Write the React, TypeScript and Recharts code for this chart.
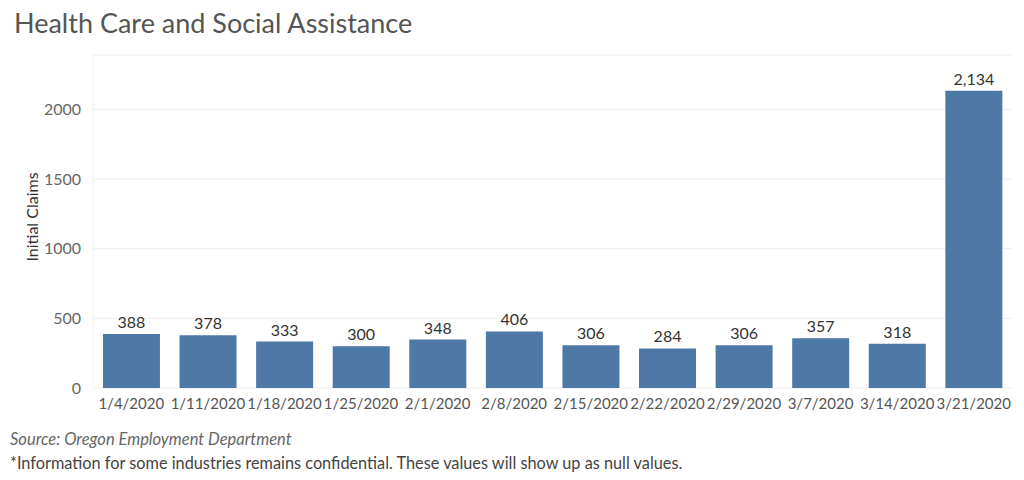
import React from 'react';
import { BarChart, Bar, XAxis, YAxis, CartesianGrid, LabelList } from 'recharts';

const weeks = ['1/4/2020', '1/11/2020', '1/18/2020', '1/25/2020', '2/1/2020', '2/8/2020', '2/15/2020', '2/22/2020', '2/29/2020', '3/7/2020', '3/14/2020', '3/21/2020'];
const claims = [388, 378, 333, 300, 348, 406, 306, 284, 306, 357, 318, 2134];
const yTicks = [0, 500, 1000, 1500, 2000];

const data = weeks.map((week, i) => ({ week, claims: claims[i] }));

const FONT = 'Lato, "Open Sans", sans-serif';

export default function App() {
  return (
    <div style={{ position: 'absolute', left: 0, top: 0, width: 1024, height: 480, background: '#fff', fontFamily: FONT }}>
      <div style={{ position: 'absolute', left: 14, top: 6, fontSize: 27, color: '#555' }}>Health Care and Social Assistance</div>
      <div
        style={{
          position: 'absolute',
          left: 31,
          top: 217,
          transform: 'translate(-50%, -50%) rotate(-90deg)',
          fontSize: 16,
          color: '#333',
          whiteSpace: 'nowrap',
        }}
      >
        Initial Claims
      </div>
      <BarChart
        width={1024}
        height={480}
        data={data}
        margin={{ top: 55, right: 12, left: 0, bottom: 62 }}
        barCategoryGap="13%"
      >
        <CartesianGrid vertical={false} stroke="#eeeeee" />
        <XAxis
          dataKey="week"
          interval={0}
          tickLine={false}
          axisLine={false}
          height={30}
          tick={{ fontSize: 15, fill: '#555', fontFamily: FONT }}
          tickMargin={4}
        />
        <YAxis
          width={93}
          domain={[0, 2390]}
          ticks={yTicks}
          tickLine={false}
          axisLine={{ stroke: '#f0f0f0' }}
          tickMargin={6}
          tick={{ fontSize: 16, fill: '#666', fontFamily: FONT }}
        />
        <Bar dataKey="claims" fill="#4e79a7" isAnimationActive={false}>
          <LabelList
            dataKey="claims"
            position="top"
            offset={6}
            formatter={(v: any) => Number(v).toLocaleString('en-US')}
            style={{ fontSize: 16, fill: '#333', fontFamily: FONT }}
          />
        </Bar>
      </BarChart>
      <div style={{ position: 'absolute', left: 10, top: 429, fontSize: 16.5, color: '#666', fontStyle: 'italic' }}>
        Source: Oregon Employment Department
      </div>
      <div style={{ position: 'absolute', left: 10, top: 453, fontSize: 16.3, color: '#444' }}>
        *Information for some industries remains confidential. These values will show up as null values.
      </div>
    </div>
  );
}
